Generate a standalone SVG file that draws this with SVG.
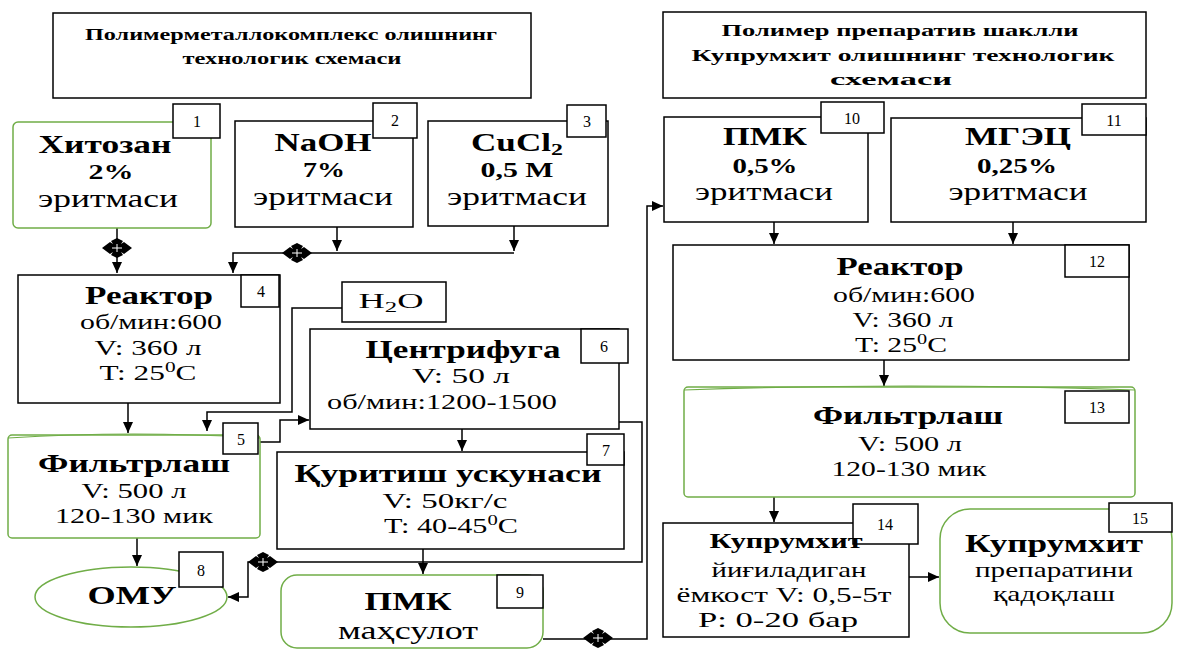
<svg xmlns="http://www.w3.org/2000/svg" width="1182" height="651" viewBox="0 0 1182 651" font-family="'Liberation Serif', 'Times New Roman', serif">
<style>
text{font-family:'Liberation Serif','Times New Roman',serif;fill:#000;text-anchor:middle}
.b{font-weight:bold}
.t{font-size:17px;font-weight:bold}
.h{font-size:25px;font-weight:bold}
.p{font-size:20px;font-weight:bold}
.e{font-size:26px}
.r{font-size:22px}
.n{font-size:16px}
.box{fill:#fff;stroke:#000;stroke-width:1.5}
.g{fill:#fff;stroke:#70ad47;stroke-width:1.5}
.lbl{fill:#fff;stroke:#000;stroke-width:1.5}
.c{fill:none;stroke:#000;stroke-width:1.5}
</style>
<defs>
<marker id="ar" markerUnits="userSpaceOnUse" markerWidth="12" markerHeight="12" refX="11" refY="5" orient="auto">
<path d="M0,0 L11,5 L0,10 Z" fill="#000"/>
</marker>
<g id="dm">
<path d="M-15,0 L-7,-6 L-4,-4 L-6,-7 L0,-10 L6,-7 L4,-4 L7,-6 L15,0 L7,6 L4,4 L6,7 L0,10 L-6,7 L-4,4 L-7,6 Z" fill="#000"/>
<path d="M-5,0H5M0,-4V4" stroke="#fff" stroke-width="1"/>
</g>
</defs>
<rect width="1182" height="651" fill="#fff"/>

<g id="title1">
<rect class="box" x="53" y="13" width="478" height="85"/>
<text class="t" x="291" y="40" textLength="412" lengthAdjust="spacingAndGlyphs">Полимерметаллокомплекс олишнинг</text>
<text class="t" x="292" y="64" textLength="219" lengthAdjust="spacingAndGlyphs">технологик схемаси</text>
</g>
<g id="title2">
<rect class="box" x="663" y="12" width="483" height="86"/>
<text class="t" x="900" y="36" textLength="357" lengthAdjust="spacingAndGlyphs">Полимер препаратив шаклли</text>
<text class="t" x="903" y="61" textLength="423" lengthAdjust="spacingAndGlyphs">Купрумхит олишнинг технологик</text>
<text class="t" x="891" y="85" textLength="122" lengthAdjust="spacingAndGlyphs">схемаси</text>
</g>

<g id="connectors">
<path class="c" d="M117,228 V273" marker-end="url(#ar)"/>
<path class="c" d="M337,227 V251" marker-end="url(#ar)"/>
<path class="c" d="M514,226 V251" marker-end="url(#ar)"/>
<path class="c" d="M514,253 H233 V273" marker-end="url(#ar)"/>
<path class="c" d="M128,403 V433" marker-end="url(#ar)"/>
<path class="c" d="M342,308 H292 V412 H207 V431" marker-end="url(#ar)"/>
<path class="c" d="M258,442 H280 V420 H309" marker-end="url(#ar)"/>
<path class="c" d="M462,429 V451" marker-end="url(#ar)"/>
<path class="c" d="M619,422 H642 V562 H248 V597 H228" marker-end="url(#ar)"/>
<path class="c" d="M423,549 V574" marker-end="url(#ar)"/>
<path class="c" d="M137,538 V566" marker-end="url(#ar)"/>
<path class="c" d="M543,639 H647 V206 H663" marker-end="url(#ar)"/>
<path class="c" d="M774,222 V244" marker-end="url(#ar)"/>
<path class="c" d="M1013,222 V244" marker-end="url(#ar)"/>
<path class="c" d="M884,360 V386" marker-end="url(#ar)"/>
<path class="c" d="M774,497 V522" marker-end="url(#ar)"/>
<path class="c" d="M909,577 H939" marker-end="url(#ar)"/>
<use href="#dm" x="117" y="248"/>
<use href="#dm" x="297" y="253"/>
<use href="#dm" x="263" y="562"/>
<use href="#dm" x="598" y="638"/>
</g>

<g id="n1">
<rect class="g" x="13" y="122" width="198" height="106" rx="5"/>
<rect class="lbl" x="173" y="104" width="47" height="34"/>
<text class="n" x="197" y="127">1</text>
<text class="h" x="105" y="153" textLength="133" lengthAdjust="spacingAndGlyphs">Хитозан</text>
<text class="p" x="111" y="179" textLength="45" lengthAdjust="spacingAndGlyphs">2%</text>
<text class="e" x="108" y="207" textLength="140" lengthAdjust="spacingAndGlyphs">эритмаси</text>
</g>
<g id="n2">
<rect class="box" x="235" y="121" width="178" height="106"/>
<rect class="lbl" x="373" y="103" width="44" height="35"/>
<text class="n" x="395" y="126">2</text>
<text class="h" x="323" y="151" textLength="97" lengthAdjust="spacingAndGlyphs">NaOH</text>
<text class="p" x="324" y="177" textLength="42" lengthAdjust="spacingAndGlyphs">7%</text>
<text class="e" x="323" y="205" textLength="140" lengthAdjust="spacingAndGlyphs">эритмаси</text>
</g>
<g id="n3">
<rect class="box" x="428" y="121" width="180" height="105"/>
<rect class="lbl" x="567" y="105" width="39" height="32"/>
<text class="n" x="587" y="127">3</text>
<text class="h" x="517" y="151" textLength="92" lengthAdjust="spacingAndGlyphs">CuCl<tspan font-size="17" dy="4">2</tspan></text>
<text class="p" x="517" y="177" textLength="73" lengthAdjust="spacingAndGlyphs">0,5 M</text>
<text class="e" x="517" y="205" textLength="140" lengthAdjust="spacingAndGlyphs">эритмаси</text>
</g>
<g id="n4">
<rect class="box" x="18" y="275" width="262" height="128"/>
<rect class="lbl" x="241" y="275" width="38" height="32"/>
<text class="n" x="261" y="297">4</text>
<text class="h" x="149" y="304" textLength="128" lengthAdjust="spacingAndGlyphs">Реактор</text>
<text class="r" x="151" y="329" textLength="142" lengthAdjust="spacingAndGlyphs">об/мин:600</text>
<text class="r" x="148" y="355" textLength="107" lengthAdjust="spacingAndGlyphs">V: 360 л</text>
<text class="r" x="148" y="380" textLength="97" lengthAdjust="spacingAndGlyphs">T: 25<tspan font-size="15" dy="-8">0</tspan><tspan dy="8">C</tspan></text>
</g>
<g id="h2o">
<rect class="box" x="342" y="282" width="104" height="40"/>
<text class="r" x="391" y="308" textLength="65" lengthAdjust="spacingAndGlyphs">H<tspan font-size="15" dy="4">2</tspan><tspan dy="-4">O</tspan></text>
</g>
<g id="n5">
<rect class="g" x="8" y="435" width="252" height="103" rx="4"/>
<path d="M8,438 Q134,430 260,438" fill="none" stroke="#70ad47" stroke-width="1.2"/>
<rect class="lbl" x="223" y="423" width="35" height="31"/>
<text class="n" x="241" y="445">5</text>
<text class="h" x="134" y="472" textLength="192" lengthAdjust="spacingAndGlyphs">Фильтрлаш</text>
<text class="r" x="134" y="498" textLength="105" lengthAdjust="spacingAndGlyphs">V: 500 л</text>
<text class="r" x="134" y="523" textLength="158" lengthAdjust="spacingAndGlyphs">120-130 мик</text>
</g>
<g id="n6">
<rect class="box" x="310" y="329" width="309" height="100"/>
<rect class="lbl" x="581" y="329" width="47" height="34"/>
<text class="n" x="604" y="352">6</text>
<text class="h" x="463" y="358" textLength="195" lengthAdjust="spacingAndGlyphs">Центрифуга</text>
<text class="r" x="461" y="383" textLength="98" lengthAdjust="spacingAndGlyphs">V: 50 л</text>
<text class="r" x="442" y="409" textLength="230" lengthAdjust="spacingAndGlyphs">об/мин:1200-1500</text>
</g>
<g id="n7">
<rect class="box" x="277" y="452" width="347" height="97"/>
<rect class="lbl" x="587" y="434" width="37" height="31"/>
<text class="n" x="606" y="456">7</text>
<text class="h" x="448" y="482" textLength="307" lengthAdjust="spacingAndGlyphs">Қуритиш ускунаси</text>
<text class="r" x="445" y="508" textLength="125" lengthAdjust="spacingAndGlyphs">V: 50кг/с</text>
<text class="r" x="451" y="533" textLength="134" lengthAdjust="spacingAndGlyphs">T: 40-45<tspan font-size="15" dy="-8">0</tspan><tspan dy="8">C</tspan></text>
</g>
<g id="n8">
<ellipse class="g" cx="131" cy="597" rx="96" ry="30"/>
<rect class="lbl" x="179" y="552" width="44" height="35"/>
<text class="n" x="201" y="576">8</text>
<text class="h" x="132" y="604" textLength="89" lengthAdjust="spacingAndGlyphs">ОМУ</text>
</g>
<g id="n9">
<rect class="g" x="281" y="575" width="262" height="73" rx="16"/>
<rect class="lbl" x="497" y="575" width="46" height="33"/>
<text class="n" x="520" y="598">9</text>
<text class="h" x="408" y="610" textLength="87" lengthAdjust="spacingAndGlyphs">ПМК</text>
<text class="e" x="408" y="639" textLength="140" lengthAdjust="spacingAndGlyphs">маҳсулот</text>
</g>
<g id="n10">
<rect class="box" x="664" y="117" width="204" height="105"/>
<rect class="lbl" x="821" y="102" width="63" height="31"/>
<text class="n" x="852" y="124">10</text>
<text class="h" x="765" y="145" textLength="84" lengthAdjust="spacingAndGlyphs">ПМК</text>
<text class="p" x="765" y="173" textLength="65" lengthAdjust="spacingAndGlyphs">0,5%</text>
<text class="e" x="764" y="200" textLength="138" lengthAdjust="spacingAndGlyphs">эритмаси</text>
</g>
<g id="n11">
<rect class="box" x="891" y="118" width="255" height="104"/>
<rect class="lbl" x="1082" y="104" width="64" height="31"/>
<text class="n" x="1114" y="126">11</text>
<text class="h" x="1018" y="145" textLength="106" lengthAdjust="spacingAndGlyphs">МГЭЦ</text>
<text class="p" x="1017" y="173" textLength="80" lengthAdjust="spacingAndGlyphs">0,25%</text>
<text class="e" x="1018" y="200" textLength="139" lengthAdjust="spacingAndGlyphs">эритмаси</text>
</g>
<g id="n12">
<rect class="box" x="673" y="245" width="456" height="115"/>
<rect class="lbl" x="1065" y="245" width="64" height="32"/>
<text class="n" x="1097" y="267">12</text>
<text class="h" x="900" y="275" textLength="127" lengthAdjust="spacingAndGlyphs">Реактор</text>
<text class="r" x="904" y="302" textLength="142" lengthAdjust="spacingAndGlyphs">об/мин:600</text>
<text class="r" x="903" y="327" textLength="101" lengthAdjust="spacingAndGlyphs">V: 360 л</text>
<text class="r" x="901" y="352" textLength="92" lengthAdjust="spacingAndGlyphs">T: 25<tspan font-size="15" dy="-8">0</tspan><tspan dy="8">C</tspan></text>
</g>
<g id="n13">
<rect class="g" x="684" y="387" width="451" height="110" rx="4"/>
<path d="M684,390 Q909,382 1135,390" fill="none" stroke="#70ad47" stroke-width="1.2"/>
<rect class="lbl" x="1065" y="391" width="64" height="32"/>
<text class="n" x="1097" y="413">13</text>
<text class="h" x="908" y="424" textLength="190" lengthAdjust="spacingAndGlyphs">Фильтрлаш</text>
<text class="r" x="910" y="451" textLength="104" lengthAdjust="spacingAndGlyphs">V: 500 л</text>
<text class="r" x="909" y="476" textLength="155" lengthAdjust="spacingAndGlyphs">120-130 мик</text>
</g>
<g id="n14">
<rect class="box" x="663" y="523" width="246" height="114"/>
<rect class="lbl" x="853" y="504" width="65" height="40"/>
<text class="n" x="885" y="530">14</text>
<text class="b" font-size="22" x="786" y="548" textLength="153" lengthAdjust="spacingAndGlyphs">Купрумхит</text>
<text class="r" x="789" y="577" textLength="155" lengthAdjust="spacingAndGlyphs">йиғиладиган</text>
<text class="r" x="784" y="602" textLength="215" lengthAdjust="spacingAndGlyphs">ёмкост V: 0,5-5т</text>
<text class="r" x="778" y="627" textLength="160" lengthAdjust="spacingAndGlyphs">P: 0-20 бар</text>
</g>
<g id="n15">
<rect class="g" x="940" y="509" width="232" height="124" rx="30"/>
<rect class="lbl" x="1109" y="503" width="63" height="29"/>
<text class="n" x="1140" y="524">15</text>
<text class="h" x="1054" y="552" textLength="178" lengthAdjust="spacingAndGlyphs">Купрумхит</text>
<text class="r" x="1054" y="577" textLength="158" lengthAdjust="spacingAndGlyphs">препаратини</text>
<text class="r" x="1054" y="601" textLength="122" lengthAdjust="spacingAndGlyphs">қадоқлаш</text>
</g>
</svg>
